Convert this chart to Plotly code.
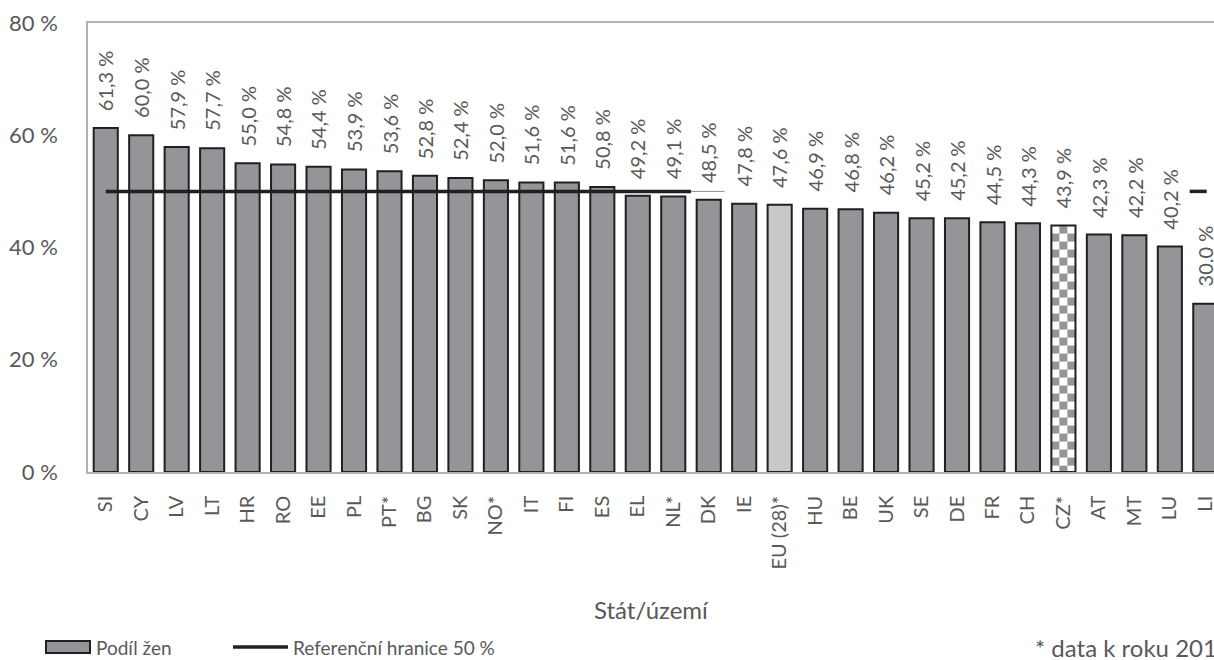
import base64
import plotly.graph_objects as go

# Share of women by state / territory (%)
categories = ["SI", "CY", "LV", "LT", "HR", "RO", "EE", "PL", "PT*", "BG", "SK", "NO*",
              "IT", "FI", "ES", "EL", "NL*", "DK", "IE", "EU (28)*", "HU", "BE", "UK",
              "SE", "DE", "FR", "CH", "CZ*", "AT", "MT", "LU", "LI"]
values = [61.3, 60.0, 57.9, 57.7, 55.0, 54.8, 54.4, 53.9, 53.6, 52.8, 52.4, 52.0,
          51.6, 51.6, 50.8, 49.2, 49.1, 48.5, 47.8, 47.6, 46.9, 46.8, 46.2,
          45.2, 45.2, 44.5, 44.3, 43.9, 42.3, 42.2, 40.2, 30.0]
reference_level = 50
y_ticks = [0, 20, 40, 60, 80]
highlight_eu = "EU (28)*"
highlight_cz = "CZ*"
decimal_sep = {"LI": "."}  # this one label is printed with a dot

# layout geometry (pixels)
W, H = 1214, 660
M_L, M_R, M_T, M_B = 88, 0, 23, 188
PLOT_W = W - M_L - M_R
PLOT_H = H - M_T - M_B
CAT_PX = 35.47
X_MIN = -0.5
X_MAX = X_MIN + PLOT_W / CAT_PX
Y_MAX = 80
BAR_GAP = 0.32

TXT = "#595959"
FONT = "Lato"
BAR_FILL = "#939598"
EU_FILL = "#c8c9cb"
EDGE = "#231f20"
FRAME = "#b3b3b3"

xs = list(range(len(categories)))
fills = []
for c in categories:
    if c == highlight_eu:
        fills.append(EU_FILL)
    elif c == highlight_cz:
        fills.append("rgba(0,0,0,0)")
    else:
        fills.append(BAR_FILL)


def fmt(cat, v):
    s = f"{v:.1f}".replace(".", decimal_sep.get(cat, ","))
    return s + " %"


def px_x(p):
    return (p - M_L) / PLOT_W


def px_y(p):
    return (H - M_B - p) / PLOT_H


fig = go.Figure()
fig.add_trace(go.Bar(
    x=xs, y=values, marker=dict(color=fills, line=dict(color=EDGE, width=2)),
    showlegend=False, hoverinfo="skip", cliponaxis=True,
))

# value labels above each bar
for x, c, v in zip(xs, categories, values):
    fig.add_annotation(x=x, y=v, xref="x", yref="y", text=fmt(c, v), textangle=-90,
                       showarrow=False, yanchor="bottom", xanchor="center", yshift=15,
                       font=dict(family=FONT, size=20, color=TXT))

# checkerboard fill for the CZ* bar
bw = 1 - BAR_GAP
i_cz = categories.index(highlight_cz)
v_cz = values[i_cz]
img_w = bw * CAT_PX
img_h = v_cz / Y_MAX * PLOT_H
sq = 8
cells = []
nx = int(img_w // sq) + 2
ny = int(img_h // sq) + 2
for r in range(ny):
    for col in range(nx):
        if (r + col) % 2 == 1:
            cells.append(f'<rect x="{col*sq}" y="{r*sq}" width="{sq}" height="{sq}" fill="{BAR_FILL}"/>')
svg = (f'<svg xmlns="http://www.w3.org/2000/svg" width="{img_w:.1f}" height="{img_h:.1f}" '
       f'viewBox="0 0 {img_w:.1f} {img_h:.1f}" preserveAspectRatio="none">'
       f'<rect width="100%" height="100%" fill="#ffffff"/>' + "".join(cells) + "</svg>")
src = "data:image/svg+xml;base64," + base64.b64encode(svg.encode()).decode()
fig.add_layout_image(source=src, xref="x", yref="y", x=i_cz - bw / 2, y=v_cz,
                     sizex=bw, sizey=v_cz, xanchor="left", yanchor="top",
                     sizing="stretch", layer="below")

# 50 % reference line (partly hidden behind the labels on the right)
i_nl = categories.index("NL*")
i_li = categories.index("LI")
fig.add_shape(type="line", xref="x", yref="y", x0=0, x1=i_nl + 0.5,
              y0=reference_level, y1=reference_level, line=dict(color=EDGE, width=3.5))
fig.add_shape(type="line", xref="x", yref="y", x0=i_nl + 0.5, x1=i_nl + 1.45,
              y0=reference_level, y1=reference_level, line=dict(color="#8c8c8c", width=1))
fig.add_shape(type="line", xref="x", yref="y", x0=i_li - 0.44, x1=i_li + 0.04,
              y0=reference_level, y1=reference_level, line=dict(color=EDGE, width=3.5))

# axis title
fig.add_annotation(x=px_x(651), y=px_y(609), xref="paper", yref="paper", text="Stát/území",
                   showarrow=False, xanchor="center", yanchor="middle",
                   font=dict(family=FONT, size=24, color=TXT))

# legend
ly = 647
fig.add_shape(type="rect", xref="paper", yref="paper", x0=px_x(46), x1=px_x(90),
              y0=px_y(ly - 6), y1=px_y(ly + 6), fillcolor=BAR_FILL,
              line=dict(color=EDGE, width=2))
fig.add_annotation(x=px_x(94), y=px_y(ly), xref="paper", yref="paper", text="Podíl žen",
                   showarrow=False, xanchor="left", yanchor="middle",
                   font=dict(family=FONT, size=19, color=TXT))
fig.add_shape(type="line", xref="paper", yref="paper", x0=px_x(233), x1=px_x(288),
              y0=px_y(ly), y1=px_y(ly), line=dict(color=EDGE, width=3.5))
fig.add_annotation(x=px_x(291), y=px_y(ly), xref="paper", yref="paper",
                   text="Referenční hranice 50 %", showarrow=False,
                   xanchor="left", yanchor="middle",
                   font=dict(family=FONT, size=19, color=TXT))
fig.add_annotation(x=px_x(1033), y=px_y(ly), xref="paper", yref="paper",
                   text="* data k roku 2015", showarrow=False,
                   xanchor="left", yanchor="middle",
                   font=dict(family=FONT, size=24, color=TXT))

fig.update_layout(
    width=W, height=H, margin=dict(l=M_L, r=M_R, t=M_T, b=M_B, autoexpand=False),
    paper_bgcolor="white", plot_bgcolor="white", bargap=BAR_GAP, showlegend=False,
    xaxis=dict(range=[X_MIN, X_MAX], tickmode="array", tickvals=xs, ticktext=categories,
               tickangle=-90, showline=True, mirror=True, linecolor=FRAME, linewidth=1.5,
               showgrid=False, zeroline=False, ticks="", ticklabelstandoff=14,
               ticklabeloverflow="allow",
               tickfont=dict(family=FONT, size=20, color=TXT), fixedrange=True),
    yaxis=dict(range=[0, Y_MAX], tickmode="array", tickvals=y_ticks,
               ticktext=[f"{t} %" for t in y_ticks], showline=True, linecolor=FRAME,
               linewidth=1.5, showgrid=False, zeroline=False, ticks="",
               ticklabelstandoff=24, tickfont=dict(family=FONT, size=22, color=TXT),
               fixedrange=True),
)

fig.write_html("out.html", config={"displayModeBar": False})
